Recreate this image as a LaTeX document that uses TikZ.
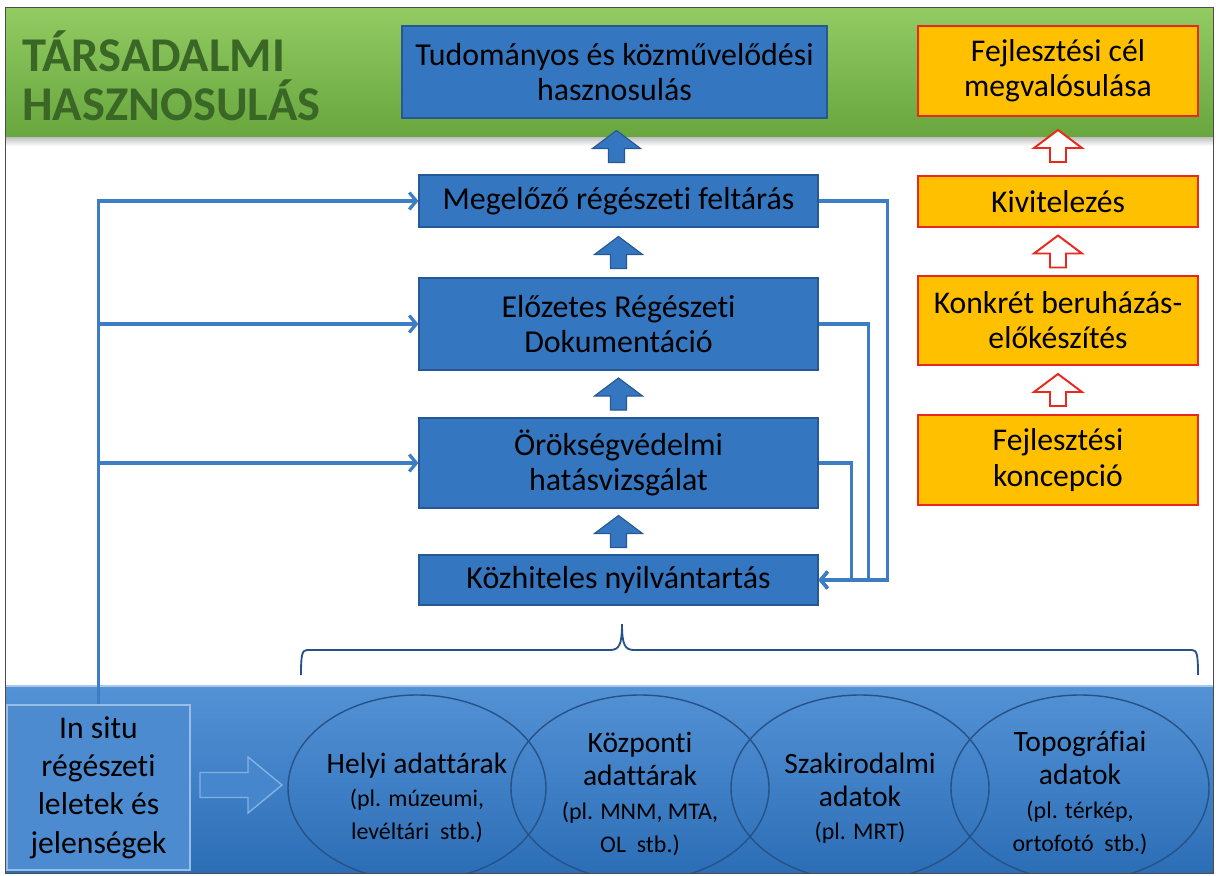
\documentclass[tikz,border=0pt]{standalone}
\usepackage{fontspec}
\setmainfont{Carlito}[Ligatures={NoCommon,NoContextual}]
\usetikzlibrary{positioning,calc,shapes.geometric,arrows.meta}

\newcommand\pxu{0.025cm}
\definecolor{boxblue}{RGB}{52,119,192}
\definecolor{boxblueline}{RGB}{38,88,150}
\definecolor{linkblue}{RGB}{60,125,196}
\definecolor{greenTop}{RGB}{146,203,98}
\definecolor{greenBot}{RGB}{104,166,62}
\definecolor{titlegreen}{RGB}{58,102,38}
\definecolor{bandTop}{RGB}{84,146,214}
\definecolor{bandBot}{RGB}{44,110,182}
\definecolor{goalorange}{RGB}{255,192,0}
\definecolor{goalred}{RGB}{235,40,30}
\definecolor{ovalline}{RGB}{38,82,136}
\definecolor{arrowFill}{RGB}{70,134,204}
\definecolor{arrowEdge}{RGB}{130,178,228}

\tikzset{
  blueBox/.style={rectangle, draw=boxblueline, line width=0.8pt, fill=boxblue, align=center,
    inner sep=0pt, font=\fontsize{22.7}{25}\selectfont, minimum width=399*\pxu},
  goalBox/.style={rectangle, draw=goalred, line width=0.8pt, fill=goalorange, align=center,
    inner sep=0pt, font=\fontsize{22.5}{25}\selectfont, minimum width=280*\pxu},
  upBlock/.pic={\path[pic actions] (-8,16) -- (-8,2) -- (-24,2) -- (0,-16) -- (24,2) -- (8,2) -- (8,16) -- cycle;},
  blueUp/.style={draw=boxblueline, fill=boxblue, line width=0.8pt},
  goalUp/.style={draw=goalred, fill=white, line width=1.4pt, line join=miter},
  bandArrow/.style={draw=arrowEdge, fill=arrowFill, line width=1pt},
  link/.style={draw=linkblue, line width=2.3pt, -{Straight Barb[length=5pt,width=12pt]}},
  oval/.style={ellipse, draw=ovalline, line width=1pt, minimum width=258*\pxu,
    minimum height=186*\pxu, inner sep=0pt},
  ovalText/.style={align=center, inner sep=0pt, font=\fontsize{21}{23.5}\selectfont},
  braceLine/.style={draw=ovalline, line width=1.3pt},
}
\newcommand\smalltxt{\fontsize{17}{21}\selectfont}

\begin{document}
\begin{tikzpicture}[x=\pxu, y=-\pxu]
  \useasboundingbox (0,0) rectangle (1216,875);
  \fill[white] (0,0) rectangle (1216,875);

  % bands
  \shade[top color=greenTop, bottom color=greenBot] (5,7) rectangle (1213,137);
  \shade[top color=black!25, bottom color=white] (5,137) rectangle (1213,146);
  \shade[top color=bandTop, bottom color=bandBot] (5,685) rectangle (1213,873);
  \draw[bandTop!50!white, line width=1.5pt] (5,686) -- (1213,686);

  \node[anchor=west, align=left, inner sep=0pt, text=titlegreen,
    font=\fontsize{34.5}{34.5}\bfseries] (title) at (22,76) {TÁRSADALMI\\HASZNOSULÁS};

  % archaeological chain
  \node[blueBox, minimum width=425*\pxu, minimum height=92*\pxu] (tudomanyos) at (614.5,72) {Tudományos és közművelődési\\hasznosulás};
  \node[blueBox, minimum height=52*\pxu] (megelozo) at (618.5,201) {Megelőző régészeti feltárás};
  \node[blueBox, minimum height=92*\pxu] (elozetes) at (618.5,324) {Előzetes Régészeti\\Dokumentáció};
  \node[blueBox, minimum height=90*\pxu] (orokseg) at (618.5,463) {Örökségvédelmi\\hatásvizsgálat};
  \node[blueBox, minimum height=50*\pxu] (kozhiteles) at (618.5,580) {Közhiteles nyilvántartás};

  \pic[blueUp] (up1) at ($(tudomanyos.south)!0.5!(megelozo.north)$) {upBlock};
  \pic[blueUp] (up2) at ($(megelozo.south)!0.5!(elozetes.north)$) {upBlock};
  \pic[blueUp] (up3) at ($(elozetes.south)!0.5!(orokseg.north)$) {upBlock};
  \pic[blueUp] (up4) at ($(orokseg.south)!0.5!(kozhiteles.north)$) {upBlock};

  % development chain
  \node[goalBox, minimum height=90*\pxu] (cel) at (1058,71) {Fejlesztési cél\\megvalósulása};
  \node[goalBox, minimum height=51*\pxu] (kivitelezes) at (1058,201.5) {Kivitelezés};
  \node[goalBox, minimum height=89*\pxu] (konkret) at (1058,320.5) {Konkrét beruházás-\\előkészítés};
  \node[goalBox, minimum height=90*\pxu] (koncepcio) at (1058,460) {Fejlesztési\\koncepció};

  \pic[goalUp] (gup1) at ($(cel.south)!0.5!(kivitelezes.north)$) {upBlock};
  \pic[goalUp] (gup2) at ($(kivitelezes.south)!0.5!(konkret.north)$) {upBlock};
  \pic[goalUp] (gup3) at ($(konkret.south)!0.5!(koncepcio.north)$) {upBlock};

  % sources
  \node[rectangle, draw=bandTop!60!white, line width=1pt, fill=bandTop!80!bandBot,
    minimum width=183*\pxu, minimum height=165*\pxu, inner sep=0pt, align=center,
    font=\fontsize{22.5}{27.3}\selectfont] (insitu) at (98.5,787.5) {In situ\\régészeti\\leletek és\\jelenségek};
  \filldraw[bandArrow, shift={(241,785)}] (-41,-12.5) -- (7,-12.5) -- (7,-28) -- (41,0)
    -- (7,28) -- (7,12.5) -- (-41,12.5) -- cycle;

  \begin{scope}
    \clip (5,685) rectangle (1213,873);
    \node[oval] (helyiOv) at (417,788) {};
    \node[oval] (kozpontiOv) at (640,788) {};
    \node[oval] (szakOv) at (860,788) {};
    \node[oval] (topoOv) at (1080,788) {};
  \end{scope}
  \node[ovalText] (helyi) at (417,798) {Helyi adattárak\\\smalltxt (pl. múzeumi,\\\smalltxt levéltári~ stb.)};
  \node[ovalText] (kozponti) at (640,794) {Központi\\adattárak\\\smalltxt (pl. MNM, MTA,\\\smalltxt OL~ stb.)};
  \node[ovalText] (szak) at (860,798) {Szakirodalmi\\adatok\\\smalltxt (pl. MRT)};
  \node[ovalText] (topo) at (1080,793) {Topográfiai\\adatok\\\smalltxt (pl. térkép,\\\smalltxt ortofotó~ stb.)};

  % brace over the sources
  \coordinate (braceL) at (301,675);
  \coordinate (braceTip) at (622,624);
  \coordinate (braceR) at (1198,675);
  \draw[braceLine] (braceL) .. controls (301,655) and (302,650) .. (307,650) -- (610,650)
    .. controls (619,650) and (622,645) .. (braceTip)
    .. controls (622,645) and (625,650) .. (634,650) -- (1192,650)
    .. controls (1197,650) and (1198,655) .. (braceR);

  % connectors
  \draw[link] (insitu.north) |- (megelozo.west);
  \draw[link] (insitu.north |- elozetes.west) -- (elozetes.west);
  \draw[link] (insitu.north |- orokseg.west) -- (orokseg.west);
  \draw[link] (megelozo.east) -- ++(69,0) |- (kozhiteles.east);
  \draw[link] (elozetes.east) -- ++(50,0) |- (kozhiteles.east);
  \draw[link] (orokseg.east) -- ++(33,0) |- (kozhiteles.east);

  \draw[black!70, line width=0.6pt] (5,7) rectangle (1213,873);
\end{tikzpicture}
\end{document}
